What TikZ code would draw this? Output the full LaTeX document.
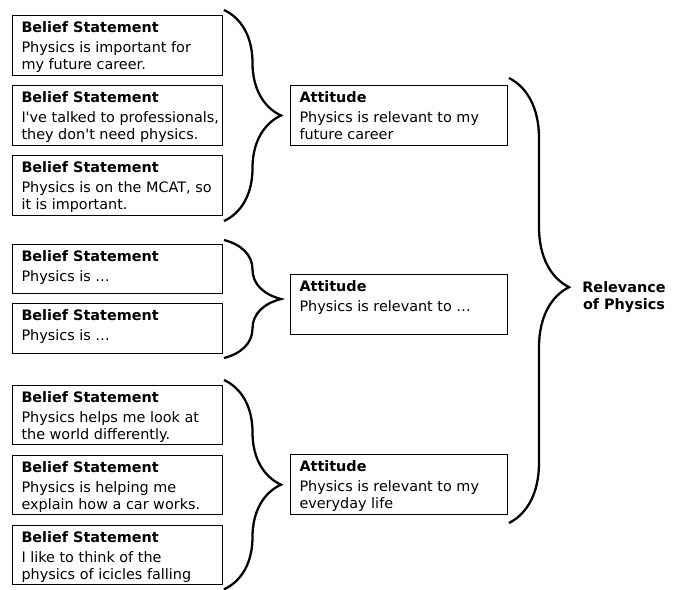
\documentclass[tikz,border=0pt]{standalone}
\usepackage{fontspec}
\setmainfont{DejaVu Sans}[Ligatures=TeXOff]
\usetikzlibrary{decorations.pathreplacing}

% box text: height, width, title, body
\newcommand{\stmtbox}[4]{\parbox[t][#1][t]{#2}{\raggedright\leftskip=6.75pt\textbf{#3}\\[2.5pt]#4}}

\tikzset{
  statement/.style={draw, line width=0.75pt, inner xsep=0pt, inner ysep=4.5pt, anchor=north west,
    font=\fontsize{10.8}{12.6}\selectfont},
  bracket/.style={decorate, decoration={brace, amplitude=#1, aspect=0.5}, line width=1.7pt},
}

\begin{document}
\begin{tikzpicture}[x=0.75pt,y=0.75pt,yscale=-1,xscale=1]
\useasboundingbox (0,0) rectangle (678,589);

% Belief statements, first group
\node[statement] (b1) at (12,15) {\stmtbox{36pt}{157.5pt}{Belief Statement}{Physics is important for\\my future career.}};
\node[statement] (b2) at (12,85) {\stmtbox{36pt}{157.5pt}{Belief Statement}{I've talked to professionals,\\they don't need physics.}};
\node[statement] (b3) at (12,155) {\stmtbox{36pt}{157.5pt}{Belief Statement}{Physics is on the MCAT, so\\it is important.}};

% Belief statements, second group
\node[statement] (b4) at (12,244) {\stmtbox{28pt}{157.5pt}{Belief Statement}{Physics is \dots}};
\node[statement] (b5) at (12,303) {\stmtbox{28.5pt}{157.5pt}{Belief Statement}{Physics is \dots}};

% Belief statements, third group
\node[statement] (b6) at (12,385) {\stmtbox{35.5pt}{157.5pt}{Belief Statement}{Physics helps me look at\\the world differently.}};
\node[statement] (b7) at (12,455) {\stmtbox{35.5pt}{157.5pt}{Belief Statement}{Physics is helping me\\explain how a car works.}};
\node[statement] (b8) at (12,525) {\stmtbox{35.5pt}{157.5pt}{Belief Statement}{I like to think of the\\physics of icicles falling}};

% Attitudes
\node[statement] (a1) at (290,85) {\stmtbox{36pt}{162.75pt}{Attitude}{Physics is relevant to my\\future career}};
\node[statement] (a2) at (290,274) {\stmtbox{36pt}{162.75pt}{Attitude}{Physics is relevant to \dots}};
\node[statement] (a3) at (290,454) {\stmtbox{36pt}{162.75pt}{Attitude}{Physics is relevant to my\\everyday life}};

% Text Node
\node[font=\fontsize{10.8}{13}\selectfont\bfseries, align=center] (rel) at (624,297) {Relevance\\of Physics};

%Shape: Braces
\draw[bracket=42.75pt] ([shift={(1,-5)}]b1.north east) -- ([shift={(1,5)}]b3.south east);
\draw[bracket=42.75pt] ([shift={(1,-4)}]b4.north east) -- ([shift={(1,4)}]b5.south east);
\draw[bracket=42.75pt] ([shift={(1,-5)}]b6.north east) -- ([shift={(1,4)}]b8.south east);
\draw[bracket=45pt, decoration={aspect=0.47}] ([shift={(1,-7)}]a1.north east) -- ([shift={(1,8)}]a3.south east);

\end{tikzpicture}
\end{document}
